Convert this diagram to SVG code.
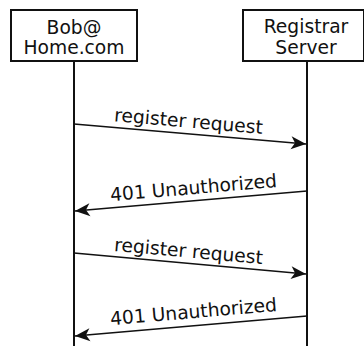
<svg xmlns="http://www.w3.org/2000/svg" width="364" height="346" viewBox="0 0 364 346">
<style>
.box{fill:#fff;stroke:#111;stroke-width:2}
.life{stroke:#111;stroke-width:2;fill:none}
.msg{stroke:#111;stroke-width:1.5;fill:none;marker-end:url(#ah)}
text{font-family:"DejaVu Sans",sans-serif;font-size:18.7px;fill:#111;text-anchor:middle}
</style>
<defs>
<marker id="ah" markerUnits="userSpaceOnUse" viewBox="-16 -7 17 14" refX="0" refY="0" markerWidth="17" markerHeight="14" orient="auto">
<path d="M0,0 L-15,-6.5 L-11,0 L-15,6.5 Z" fill="#111"/>
</marker>
</defs>
<g id="lifelines">
<line class="life" x1="74" y1="61" x2="74" y2="346"/>
<line class="life" x1="307" y1="61" x2="307" y2="346"/>
</g>
<g id="bob">
<rect class="box" x="11" y="10" width="126" height="51"/>
<text x="74" y="34">Bob@</text>
<text x="74" y="54">Home.com</text>
</g>
<g id="registrar">
<rect class="box" x="243" y="10" width="121" height="51"/>
<text x="306" y="33">Registrar</text>
<text x="306" y="54">Server</text>
</g>
<g id="connectors">
<line class="msg" x1="74" y1="124" x2="306" y2="144"/>
<line class="msg" x1="307" y1="191" x2="75" y2="211"/>
<line class="msg" x1="74" y1="253" x2="306" y2="274"/>
<line class="msg" x1="307" y1="316" x2="75" y2="336"/>
<text transform="translate(188,127.5) rotate(4.9)">register request</text>
<text transform="translate(194,194) rotate(-4.9)">401 Unauthorized</text>
<text transform="translate(188,257.5) rotate(5.1)">register request</text>
<text transform="translate(194,318) rotate(-4.9)">401 Unauthorized</text>
</g>
</svg>
